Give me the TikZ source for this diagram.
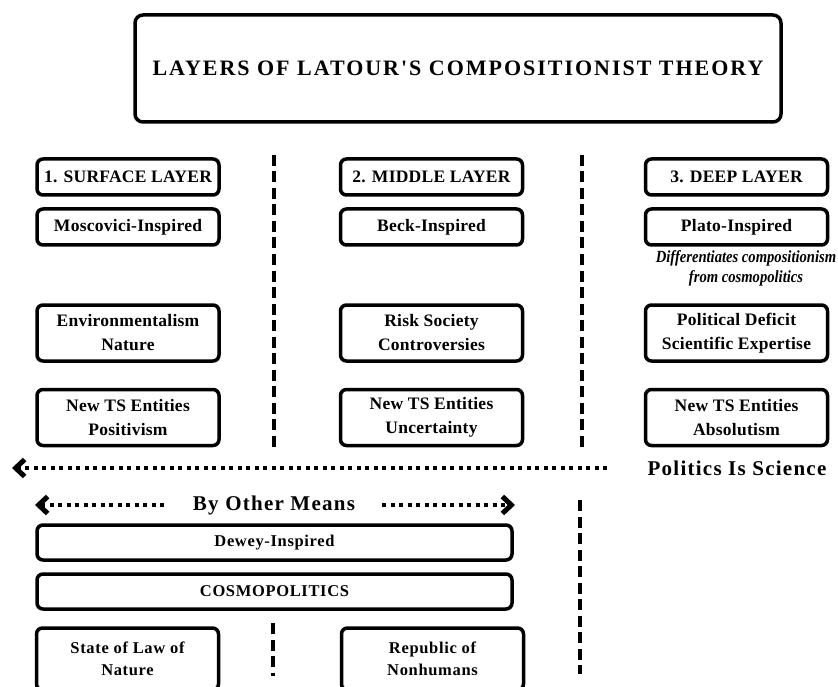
\documentclass[tikz,border=0pt]{standalone}
\usepackage{fontspec}
\setmainfont{Liberation Serif}
\newfontfamily\titlefont[LetterSpace=9]{Liberation Serif}
\newfontfamily\boxfont[LetterSpace=1.5]{Liberation Serif}
\newfontfamily\lowfont[LetterSpace=4]{Liberation Serif}
\newfontfamily\bigfont[LetterSpace=6]{Liberation Serif}
\newfontfamily\notefont[FakeStretch=0.86]{Liberation Serif}
\usetikzlibrary{arrows.meta}
\tikzset{
  box/.style={draw, line width=3.5pt, rounded corners=6pt, fill=white, align=center,
    inner sep=0pt, minimum width=182pt, minimum height=36pt,
    font=\boxfont\bfseries\fontsize{17.5}{24}\selectfont},
  twobox/.style={box, minimum height=56pt},
  lowbox/.style={box, font=\lowfont\bfseries\fontsize{16.5}{22}\selectfont},
  wide/.style={lowbox, minimum width=475pt, minimum height=35pt},
  titlebox/.style={draw, line width=3.5pt, rounded corners=8pt, minimum width=646pt,
    minimum height=107pt, inner sep=0pt, font=\titlefont\bfseries\fontsize{22}{26}\selectfont},
  vdash/.style={line width=4pt, dash pattern=on 11pt off 5.5pt},
  dotarrow/.style={line width=4pt, dash pattern=on 4pt off 4.5pt,
    -{Straight Barb[length=9pt,width=17pt,line width=5pt]}},
  bigtxt/.style={inner sep=0pt, font=\bigfont\bfseries\fontsize{21}{24}\selectfont},
  note/.style={inner sep=0pt, align=center, font=\notefont\bfseries\itshape\fontsize{17}{20}\selectfont}
}
\begin{document}
\begin{tikzpicture}[x=1pt,y=-1pt]
\useasboundingbox (0,0) rectangle (838,687);
% title
\node[titlebox] (title) at (458,68.5) {LAYERS OF LATOUR'S COMPOSITIONIST THEORY};
% column 1
\node[box] (h1) at (128,177) {1. SURFACE LAYER};
\node[box] (i1) at (128,227) {Moscovici-Inspired};
\node[twobox] (a1) at (128,333) {Environmentalism\\Nature};
\node[twobox] (b1) at (128,417.5) {New TS Entities\\Positivism};
% column 2
\node[box] (h2) at (431.5,177) {2. MIDDLE LAYER};
\node[box] (i2) at (431.5,227) {Beck-Inspired};
\node[twobox] (a2) at (431.5,333) {Risk Society\\Controversies};
\node[twobox] (b2) at (431.5,417.5) {New TS Entities\\Uncertainty};
% column 3
\node[box] (h3) at (736.5,177) {3. DEEP LAYER};
\node[box] (i3) at (736.5,227) {Plato-Inspired};
\node[note] (n3) at (746,268) {Differentiates compositionism\\from cosmopolitics};
\node[twobox] (a3) at (736.5,333) {Political Deficit\\Scientific Expertise};
\node[twobox] (b3) at (736.5,417.5) {New TS Entities\\Absolutism};
% vertical separators
\coordinate (s1t) at (274,155); \coordinate (s1b) at (274,449);
\coordinate (s2t) at (582,155); \coordinate (s2b) at (582,449);
\draw[vdash] (s1t) -- (s1b);
\draw[vdash] (s2t) -- (s2b);
% long arrow
\node[bigtxt] (pis) at (737,468) {Politics Is Science};
\coordinate (la0) at (607,468); \coordinate (la1) at (12,468);
\draw[dotarrow] (la0) -- (la1);
% by other means
\node[bigtxt] (bom) at (274,505) {By Other Means};
\coordinate (lb0) at (164,505); \coordinate (lb1) at (35,505);
\coordinate (rb0) at (382,505); \coordinate (rb1) at (515,505);
\draw[dotarrow] (lb0) -- (lb1);
\draw[dotarrow] (rb0) -- (rb1);
% lower boxes
\node[wide] (dew) at (274.5,542.5) {Dewey-Inspired};
\node[wide] (cos) at (274.5,591.5) {COSMOPOLITICS};
\node[lowbox, minimum height=62pt] (st) at (127.5,659) {State of Law of\\Nature};
\node[lowbox, minimum height=62pt] (rep) at (432.5,659) {Republic of\\Nonhumans};
% lower separators
\coordinate (s3t) at (580,500); \coordinate (s3b) at (580,674);
\coordinate (s4t) at (273,623); \coordinate (s4b) at (273,676);
\draw[vdash] (s3t) -- (s3b);
\draw[vdash] (s4t) -- (s4b);
\end{tikzpicture}
\end{document}
